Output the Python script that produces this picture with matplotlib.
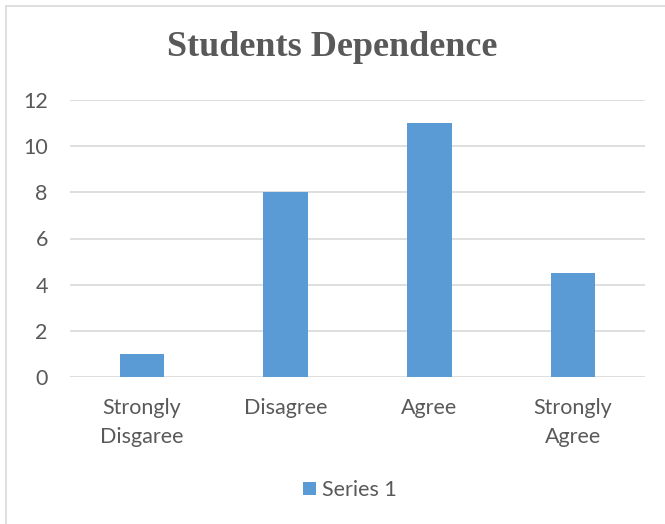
import matplotlib
matplotlib.use('Agg')
from matplotlib import pyplot as plt
from matplotlib.patches import Rectangle

categories = ['Strongly\nDisgaree', 'Disagree', 'Agree', 'Strongly\nAgree']
series_1 = [1, 8, 11, 4.5]
y_ticks = [0, 2, 4, 6, 8, 10, 12]

W, H = 665, 524
fig = plt.figure(figsize=(W / 100, H / 100), dpi=100)

# chart border (Excel-like frame, partly off the right/bottom edge)
fig.patches.append(Rectangle((6 / W, -0.1), 1.2, 1 - 6 / H + 0.1, transform=fig.transFigure,
                             fill=False, edgecolor='#D9D9D9', linewidth=1.2))

ax = fig.add_axes([70 / W, 1 - 377 / H, (645 - 70) / W, (377 - 100) / H])
x = range(len(categories))
ax.bar(x, series_1, width=0.31, color='#5B9BD5', label='Series 1', zorder=3)

ax.set_xlim(-0.5, 3.5)
ax.set_ylim(0, 12)
ax.set_yticks(y_ticks)
ax.set_xticks(list(x))
ax.set_xticklabels(categories, fontsize=15.5, color='#595959', family='Lato', linespacing=1.6)
ax.tick_params(axis='y', labelsize=15.5, labelcolor='#595959', length=0, pad=16)
ax.tick_params(axis='x', length=0, pad=15)
for lab in ax.get_yticklabels():
    lab.set_family('Lato')

ax.grid(axis='y', color='#D9D9D9', linewidth=1.2, zorder=0)
for s in ax.spines.values():
    s.set_visible(False)

fig.text(0.5, 1 - 47 / H, 'Students Dependence', ha='center', va='center',
         fontsize=26, fontweight='bold', color='#595959', family='Liberation Serif')

leg = fig.legend(loc='center', bbox_to_anchor=(350 / W, 1 - 490 / H), frameon=False,
                 prop={'family': 'Lato', 'size': 15.5}, handlelength=0.6, handleheight=0.6,
                 handletextpad=0.25)
for t in leg.get_texts():
    t.set_color('#595959')

fig.savefig('out.png', dpi=100)
